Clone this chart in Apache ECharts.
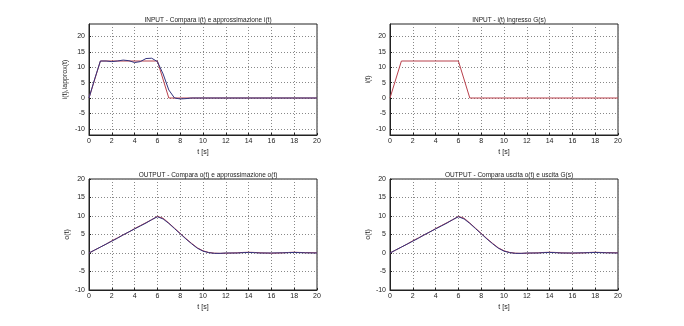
<!DOCTYPE html>
<html>
<head>
<meta charset="utf-8">
<title>Confronto ingresso / uscita</title>
<script src="https://cdn.jsdelivr.net/npm/echarts@6/dist/echarts.min.js"></script>
<style>
  html, body { margin: 0; padding: 0; background: #fff; }
  #chart { width: 684px; height: 326px; }
</style>
</head>
<body>
<div id="chart"></div>
<script>
// Ingresso trapezoidale i(t): campioni (t, valore)
const inputT = [0, 1, 6, 7, 20];
const inputI = [0, 12, 12, 0, 0];

// Approssimazione di i(t)
const approxInT = [0, 0.5, 1, 1.5, 2, 2.5, 3, 3.5, 4, 4.5, 5, 5.5, 6, 6.5, 7, 7.5, 8, 8.5, 9, 10, 12, 14, 16, 18, 20];
const approxInV = [0, 6.2, 12.0, 12.0, 11.8, 12.0, 12.3, 12.1, 11.5, 11.8, 12.8, 12.9, 11.8, 7.8, 2.6, 0.0, -0.3, -0.2, 0.0, 0, 0, 0, 0, 0, 0];

// Uscita o(t)
const outT = [0, 0.5, 1, 1.5, 2, 2.5, 3, 3.5, 4, 4.5, 5, 5.5, 6, 6.5, 7, 7.5, 8, 8.5, 9, 9.5, 10, 10.5, 11, 11.5, 12, 13, 13.5, 14, 14.5, 15, 16, 17, 17.5, 18, 18.5, 19, 20];
const outO = [0, 0.8, 1.6, 2.4, 3.2, 4.0, 4.9, 5.7, 6.5, 7.3, 8.1, 9.0, 9.8, 9.2, 8.0, 6.6, 5.2, 3.8, 2.5, 1.3, 0.5, 0.1, -0.1, -0.1, 0.0, 0.0, 0.1, 0.15, 0.1, 0.0, 0.0, 0.05, 0.1, 0.15, 0.1, 0.05, 0.0];
// Approssimazione di o(t) / uscita G(s)
const outApprox = [0, 0.8, 1.6, 2.4, 3.3, 4.1, 4.9, 5.7, 6.6, 7.4, 8.2, 9.0, 9.9, 9.4, 8.1, 6.7, 5.3, 3.9, 2.6, 1.4, 0.6, 0.15, -0.05, -0.1, -0.05, 0.05, 0.15, 0.2, 0.15, 0.05, -0.05, 0.05, 0.15, 0.2, 0.15, 0.1, 0.05];

// Etichette degli assi e titoli
const xTicks = [0, 2, 4, 6, 8, 10, 12, 14, 16, 18, 20];
const yTicks = [-10, -5, 0, 5, 10, 15, 20];
const titles = [
  'INPUT - Compara i(t) e approssimazione i(t)',
  'INPUT - i(t) ingresso G(s)',
  'OUTPUT - Compara o(t) e approssimazione o(t)',
  'OUTPUT - Compara uscita o(t) e uscita G(s)'
];
const yNames = ['i(t),iapprox(t)', 'i(t)', 'o(t)', 'o(t)'];
const xName = 't [s]';

const pairs = (ts, vs) => ts.map((t, k) => [t, vs[k]]);

const RED = '#b8404c';
const BLUE = '#34347e';
const FONT = 'Liberation Sans, Arial, sans-serif';

const grids = [
  { left: 89, top: 24, width: 228, height: 111 },
  { left: 390, top: 24, width: 228, height: 111 },
  { left: 89, top: 179, width: 228, height: 111 },
  { left: 390, top: 179, width: 228, height: 111 }
].map(g => Object.assign({ show: true, borderColor: '#222', borderWidth: 1, backgroundColor: '#fff' }, g));

const gridLine = { show: true, lineStyle: { color: '#888', type: [1, 2], width: 1 } };
const labelStyle = { color: '#222', fontSize: 7, fontFamily: FONT };

const xAxes = grids.map((g, k) => ({
  type: 'value', gridIndex: k, min: 0, max: 20, interval: 2,
  name: xName, nameLocation: 'middle', nameGap: 14,
  nameTextStyle: { color: '#222', fontSize: 7, fontFamily: FONT },
  axisLine: { show: true, onZero: false, lineStyle: { color: '#222' } },
  axisTick: { show: true, inside: true, length: 2, lineStyle: { color: '#222' } },
  axisLabel: Object.assign({ margin: 3, customValues: xTicks }, labelStyle),
  splitLine: gridLine
}));

const yAxes = grids.map((g, k) => {
  const top = k < 2;
  return {
    type: 'value', gridIndex: k,
    min: top ? -12 : -10, max: top ? 24 : 20,
    name: yNames[k], nameLocation: 'middle', nameGap: k === 0 ? 20 : 18,
    nameTextStyle: { color: '#222', fontSize: 7, fontFamily: FONT },
    axisLine: { show: true, onZero: false, lineStyle: { color: '#222' } },
    axisTick: { show: true, inside: true, length: 2, customValues: yTicks, lineStyle: { color: '#222' } },
    axisLabel: Object.assign({ margin: 4, customValues: yTicks }, labelStyle),
    splitLine: gridLine
  };
});

const lineSeries = (k, data, color, z) => ({
  type: 'line', xAxisIndex: k, yAxisIndex: k, data,
  showSymbol: false, symbol: 'none', z,
  lineStyle: { color, width: 1 }, silent: true
});

const series = [
  lineSeries(0, pairs(inputT, inputI), RED, 2),
  lineSeries(0, pairs(approxInT, approxInV), BLUE, 3),
  lineSeries(1, pairs(inputT, inputI), RED, 2),
  lineSeries(2, pairs(outT, outApprox), RED, 2),
  lineSeries(2, pairs(outT, outO), BLUE, 3),
  lineSeries(3, pairs(outT, outApprox), RED, 2),
  lineSeries(3, pairs(outT, outO), BLUE, 3)
];

const title = titles.map((text, k) => ({
  text,
  left: grids[k].left + grids[k].width / 2,
  textAlign: 'center',
  top: k < 2 ? 12 : 167,
  textStyle: { color: '#222', fontSize: 6.5, fontWeight: 'normal', fontFamily: FONT }
}));

const chart = echarts.init(document.getElementById('chart'), null, { renderer: 'canvas' });
chart.setOption({
  backgroundColor: '#fff',
  animation: false,
  title,
  grid: grids,
  xAxis: xAxes,
  yAxis: yAxes,
  series
});
</script>
</body>
</html>
